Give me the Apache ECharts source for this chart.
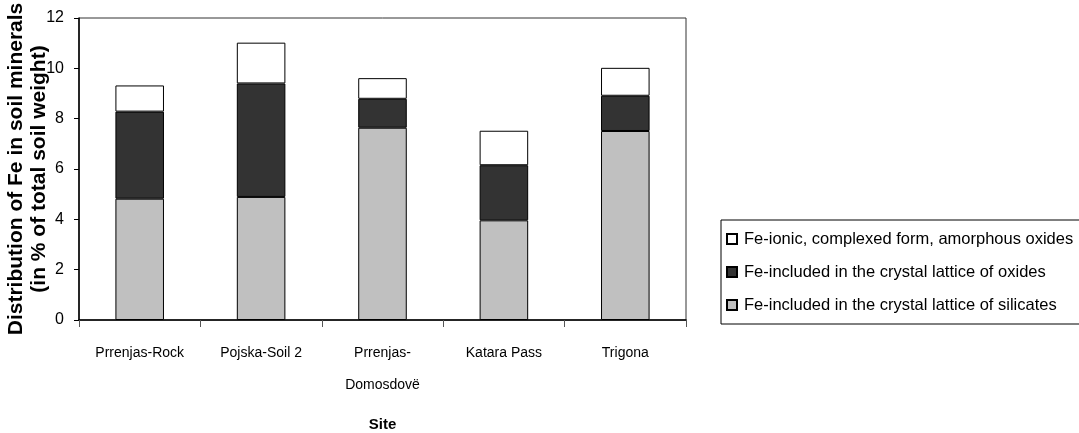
<!DOCTYPE html>
<html><head><meta charset="utf-8">
<script src="https://cdn.jsdelivr.net/npm/echarts@6/dist/echarts.min.js"></script>
<style>html,body{margin:0;padding:0;background:#fff}#c{width:1079px;height:433px}</style>
</head><body><div id="c"></div>
<script>
const categories = ["Prrenjas-Rock", "Pojska-Soil 2", "Prrenjas-\nDomosdovë", "Katara Pass", "Trigona"];
const silicates = [4.82, 4.89, 7.64, 3.96, 7.51];
const oxides = [3.46, 4.51, 1.15, 2.19, 1.40];
const ionic = [1.04, 1.62, 0.82, 1.37, 1.11];
const seriesNames = [
  "Fe-included in the crystal lattice of silicates",
  "Fe-included in the crystal lattice of oxides",
  "Fe-ionic, complexed form, amorphous oxides"
];
const yTicks = [0, 2, 4, 6, 8, 10, 12];

const font = "'Liberation Sans', Arial, sans-serif";
const chart = echarts.init(document.getElementById('c'));
const mk = (name, data, color) => ({
  name, type: 'bar', stack: 'fe', data, barWidth: '40%',
  itemStyle: {color, borderColor: '#000', borderWidth: 1},
  emphasis: {disabled: true}
});
chart.setOption({
  animation: false,
  textStyle: {fontFamily: font},
  grid: {left: 79, right: 393, top: 18, bottom: 113, outerBoundsMode: 'none', containLabel: false,
    show: true, borderColor: '#333', borderWidth: 1, backgroundColor: 'transparent'},
  legend: {
    orient: 'vertical', left: 721, top: 220,
    padding: [10, 30, 10, 5],
    data: [seriesNames[2], seriesNames[1], seriesNames[0]],
    icon: 'rect',
    itemWidth: 10, itemHeight: 10, itemGap: 15,
    borderColor: '#000', borderWidth: 1,
    textStyle: {fontFamily: font, fontSize: 16.5, lineHeight: 18, color: '#000', padding: [0, 0, 0, 2]},
    selectedMode: false
  },
  xAxis: {
    type: 'category', data: categories,
    axisLine: {lineStyle: {color: '#000', width: 1.5}},
    axisTick: {show: true, length: 7, lineStyle: {color: '#555'}},
    axisLabel: {color: '#000', fontSize: 14, fontFamily: font, margin: 17, lineHeight: 32, interval: 0},
    name: 'Site', nameLocation: 'middle', nameGap: 97, nameMoveOverlap: false,
    nameTextStyle: {fontWeight: 'bold', fontSize: 15, color: '#000', fontFamily: font}
  },
  yAxis: {
    type: 'value', min: 0, max: 12, interval: 2,
    axisLine: {show: true, lineStyle: {color: '#000', width: 1.5}},
    axisTick: {show: true, length: 5, lineStyle: {color: '#000'}},
    splitLine: {show: false},
    axisLabel: {color: '#000', fontSize: 16, fontFamily: font, margin: 15,
      formatter: v => yTicks.includes(v) ? String(v) : ''},
    name: 'Distribution of Fe in soil minerals\n(in % of total soil weight)',
    nameLocation: 'middle', nameGap: 28, nameRotate: 90, nameMoveOverlap: false,
    nameTextStyle: {fontWeight: 'bold', fontSize: 21, lineHeight: 23, color: '#000', fontFamily: font}
  },
  series: [
    mk(seriesNames[0], silicates, '#c0c0c0'),
    mk(seriesNames[1], oxides, '#333333'),
    mk(seriesNames[2], ionic, '#ffffff')
  ]
});
</script></body></html>
